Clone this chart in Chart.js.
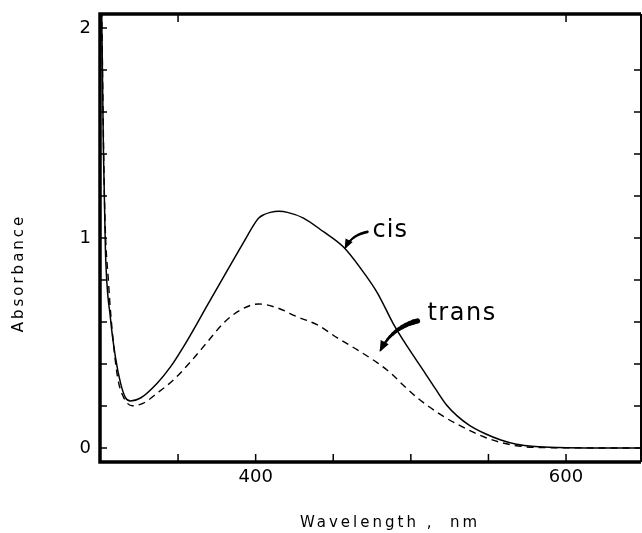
<!DOCTYPE html>
<html><head><meta charset="utf-8">
<script src="https://cdn.jsdelivr.net/npm/chart.js@4"></script>
<style>html,body{margin:0;padding:0;background:#fff}canvas{display:block}</style>
</head><body>
<canvas id="c" width="642" height="533"></canvas>
<script>
// ---- data ----
const cisWavelength   = [300.6, 301.9, 303.2, 306.4, 309.7, 312.9, 316.1, 319.3, 325.8, 336.7, 345.1, 356.1, 368.9, 383.8, 392.1, 399.0, 402.0, 405.0, 409.5, 415.0, 420.5, 430.8, 443.7, 456.6, 467.5, 478.5, 488.8, 498.0, 508.0, 516.0, 523.0, 530.0, 538.0, 548.0, 558.0, 568.0, 580.0, 595.0, 620.0, 648.0];
const cisAbsorbance   = [2.20, 1.42, 0.94, 0.62, 0.43, 0.31, 0.24, 0.224, 0.238, 0.31, 0.386, 0.514, 0.68, 0.872, 0.978, 1.065, 1.095, 1.11, 1.122, 1.127, 1.122, 1.095, 1.03, 0.957, 0.857, 0.738, 0.59, 0.48, 0.37, 0.28, 0.205, 0.152, 0.107, 0.068, 0.038, 0.018, 0.007, 0.002, 0.0, 0.0];
const transWavelength = [300.6, 302.6, 305.2, 307.7, 311.0, 314.8, 320.6, 327.7, 336.7, 347.0, 358.0, 368.9, 379.3, 390.2, 401.8, 414.0, 426.9, 439.8, 452.7, 465.6, 478.5, 487.0, 495.0, 504.0, 512.0, 520.0, 532.0, 548.0, 564.0, 583.0, 648.0];
const transAbsorbance = [2.20, 1.18, 0.786, 0.548, 0.338, 0.243, 0.201, 0.214, 0.262, 0.324, 0.41, 0.505, 0.595, 0.657, 0.686, 0.667, 0.624, 0.586, 0.524, 0.467, 0.405, 0.357, 0.30, 0.24, 0.195, 0.155, 0.105, 0.05, 0.016, 0.002, 0.0];
const xTickValues = [350, 400, 450, 500, 550, 600, 650];
const xTickLabels = ['400', '600'];
const xTopTickValues = [350, 600];
const yTickValues = [0, 0.2, 0.4, 0.6, 0.8, 1.0, 1.2, 1.4, 1.6, 1.8, 2.0];
const yTickLabels = ['0', '1', '2'];
const yRightTickValues = [0.2, 0.4, 0.6, 0.8, 1.0, 1.2, 1.4, 1.6, 1.8];
const seriesNames = ['cis', 'trans'];
const xTitle = 'Wavelength ,  nm';
const yTitle = 'Absorbance';

const FONT = 'DejaVu Sans';

function toPoints(xs, ys) { return xs.map((x, i) => ({ x: x, y: ys[i] })); }
function labelFor(v, list) {
  const s = String(Math.round(v * 1000) / 1000);
  return list.includes(s) ? s : '';
}
function noPad(s) { s.paddingTop = 0; s.paddingBottom = 0; s.paddingLeft = 0; s.paddingRight = 0; }

const framePlugin = {
  id: 'frame',
  afterDraw(chart) {
    const { ctx, chartArea: a, scales: { x, y } } = chart;
    ctx.save();
    ctx.strokeStyle = '#000';
    ctx.fillStyle = '#000';
    // inward ticks
    ctx.lineWidth = 1.5;
    ctx.beginPath();
    xTickValues.forEach(v => { const px = x.getPixelForValue(v); ctx.moveTo(px, a.bottom); ctx.lineTo(px, a.bottom - 8); });
    xTopTickValues.forEach(v => { const px = x.getPixelForValue(v); ctx.moveTo(px, a.top); ctx.lineTo(px, a.top + 8); });
    yTickValues.forEach(v => { const py = y.getPixelForValue(v); ctx.moveTo(a.left, py); ctx.lineTo(a.left + 7, py); });
    yRightTickValues.forEach(v => { const py = y.getPixelForValue(v); ctx.moveTo(a.right, py); ctx.lineTo(a.right - 7, py); });
    ctx.stroke();
    // frame
    ctx.lineWidth = 3.5;
    ctx.beginPath();
    ctx.moveTo(a.right, a.top); ctx.lineTo(a.left, a.top); ctx.lineTo(a.left, a.bottom); ctx.lineTo(a.right, a.bottom);
    ctx.stroke();
    ctx.lineWidth = 2;
    ctx.beginPath(); ctx.moveTo(a.right, a.top); ctx.lineTo(a.right, a.bottom); ctx.stroke();

    // series annotations (anchored in data coordinates)
    const P = (wl, ab) => [x.getPixelForValue(wl), y.getPixelForValue(ab)];
    ctx.textAlign = 'left';
    ctx.textBaseline = 'alphabetic';
    ctx.font = '24px "' + FONT + '"';
    ctx.letterSpacing = '1px';
    let p = P(475.3, 1.005);
    ctx.fillText(seriesNames[0], p[0], p[1]);
    ctx.letterSpacing = '1.5px';
    p = P(510.7, 0.61);
    ctx.fillText(seriesNames[1], p[0], p[1]);
    ctx.letterSpacing = '0px';

    function arrow(s, c, t, w0, w1, head) {
      const n = 12;
      let prev = s;
      for (let i = 1; i <= n; i++) {
        const u = i / n;
        const qx = (1 - u) * (1 - u) * s[0] + 2 * (1 - u) * u * c[0] + u * u * t[0];
        const qy = (1 - u) * (1 - u) * s[1] + 2 * (1 - u) * u * c[1] + u * u * t[1];
        ctx.lineWidth = w0 + (w1 - w0) * u;
        ctx.lineCap = 'round';
        ctx.beginPath(); ctx.moveTo(prev[0], prev[1]); ctx.lineTo(qx, qy); ctx.stroke();
        prev = [qx, qy];
      }
      const ang = Math.atan2(t[1] - c[1], t[0] - c[0]);
      ctx.beginPath();
      ctx.moveTo(t[0] + Math.cos(ang) * 2, t[1] + Math.sin(ang) * 2);
      ctx.lineTo(t[0] - Math.cos(ang) * head + Math.cos(ang + Math.PI / 2) * head * 0.5, t[1] - Math.sin(ang) * head + Math.sin(ang + Math.PI / 2) * head * 0.5);
      ctx.lineTo(t[0] - Math.cos(ang) * head - Math.cos(ang + Math.PI / 2) * head * 0.5, t[1] - Math.sin(ang) * head - Math.sin(ang + Math.PI / 2) * head * 0.5);
      ctx.closePath(); ctx.fill();
    }
    arrow(P(472.0, 1.029), P(462.0, 1.015), P(457.9, 0.955), 2.8, 1.6, 8);
    arrow(P(504.3, 0.605), P(488.1, 0.575), P(480.5, 0.466), 5.5, 1.8, 9);

    // axis titles
    ctx.fillStyle = '#000';
    ctx.font = '15px "' + FONT + '"';
    ctx.letterSpacing = '3px';
    ctx.textAlign = 'center';
    ctx.textBaseline = 'middle';
    ctx.fillText(xTitle, 390, 523);
    ctx.save();
    ctx.translate(19, 273);
    ctx.rotate(-Math.PI / 2);
    ctx.letterSpacing = '3px';
    ctx.fillText(yTitle, 0, 0);
    ctx.restore();
    ctx.restore();
  }
};

new Chart(document.getElementById('c'), {
  type: 'line',
  data: {
    datasets: [
      { label: seriesNames[0], data: toPoints(cisWavelength, cisAbsorbance), borderColor: '#000', borderWidth: 1.5, pointRadius: 0, fill: false, cubicInterpolationMode: 'monotone' },
      { label: seriesNames[1], data: toPoints(transWavelength, transAbsorbance), borderColor: '#000', borderWidth: 1.4, borderDash: [7, 5], pointRadius: 0, fill: false, cubicInterpolationMode: 'monotone' }
    ]
  },
  options: {
    responsive: false,
    animation: false,
    layout: { padding: { top: 14, right: 1, left: 0, bottom: 0 } },
    plugins: { legend: { display: false }, tooltip: { enabled: false }, title: { display: false } },
    scales: {
      x: {
        type: 'linear', min: 299.7, max: 648.3,
        afterBuildTicks: s => { s.ticks = xTickValues.map(v => ({ value: v })); },
        afterFit: s => { s.height = 71; noPad(s); },
        grid: { display: false, drawTicks: false },
        border: { display: false },
        ticks: { autoSkip: false, maxRotation: 0, padding: 5, color: '#000', font: { family: FONT, size: 18 }, callback: v => labelFor(v, xTickLabels) }
      },
      y: {
        type: 'linear', min: -0.0667, max: 2.0667,
        afterBuildTicks: s => { s.ticks = yTickValues.map(v => ({ value: v })); },
        afterFit: s => { s.width = 100; noPad(s); },
        grid: { display: false, drawTicks: false },
        border: { display: false },
        ticks: { autoSkip: false, padding: 9, color: '#000', font: { family: FONT, size: 18 }, callback: v => labelFor(v, yTickLabels) }
      }
    }
  },
  plugins: [framePlugin]
});
</script>
</body></html>
